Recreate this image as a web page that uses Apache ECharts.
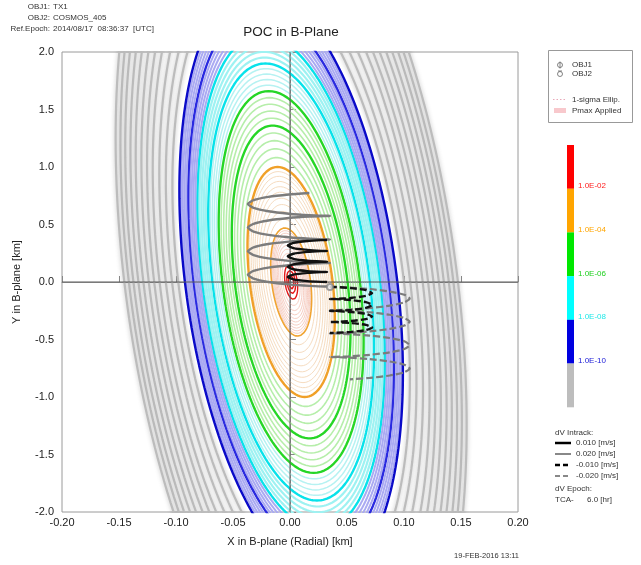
<!DOCTYPE html>
<html><head><meta charset="utf-8">
<script src="https://cdn.jsdelivr.net/npm/echarts@6/dist/echarts.min.js"></script>
<style>html,body{margin:0;padding:0;background:#fff}#c{width:641px;height:565px}</style>
</head><body><div id="c"></div>
<script>
// ---------------- data ----------------
const xTickValues = [-0.20, -0.15, -0.10, -0.05, 0.00, 0.05, 0.10, 0.15, 0.20];
const yTickValues = [-2.0, -1.5, -1.0, -0.5, 0.0, 0.5, 1.0, 1.5, 2.0];

// Pc contour ellipse shape (km), scale 1 = the 1.0E-04 contour
const ellipseCenter = [0.001, 0.0];
const ellipseHalfWidth = 0.0364;   // X half-width along Y = centre
const ellipseHalfHeight = 1.0;     // Y half-height
const ellipseShear = -0.0119;      // X offset of the top point

// contour levels (log10 Pc) and their ellipse scale factors
const contourLevels = [
  -1.8, -1.9, -2,
  -2.1, -2.2, -2.3, -2.4, -2.5, -2.6, -2.7, -2.8, -2.9, -3,
  -3.1, -3.2, -3.3, -3.4, -3.5, -3.6, -3.7, -3.8, -3.9, -4,
  -4.2, -4.4, -4.6, -4.8, -5,
  -5.2, -5.4, -5.6, -5.8, -6,
  -6.2, -6.4, -6.6, -6.8, -7,
  -7.2, -7.4, -7.6, -7.8, -8,
  -8.2, -8.4, -8.6, -8.8, -9,
  -9.2, -9.4, -9.6, -9.8, -10,
  -11, -12, -13, -14, -15, -16, -17, -18, -19, -20, -21
];
const contourScales = [
  0.06, 0.10, 0.15,
  0.205, 0.249, 0.286, 0.318, 0.348, 0.375, 0.401, 0.425, 0.447, 0.47,
  0.546, 0.613, 0.674, 0.729, 0.781, 0.829, 0.875, 0.919, 0.960, 1.0,
  1.082, 1.158, 1.229, 1.296, 1.36,
  1.425, 1.487, 1.546, 1.603, 1.66,
  1.712, 1.761, 1.808, 1.855, 1.90,
  1.952, 2.002, 2.052, 2.100, 2.15,
  2.193, 2.236, 2.278, 2.319, 2.36,
  2.402, 2.441, 2.482, 2.520, 2.56,
  2.72, 2.87, 3.02, 3.17, 3.30, 3.43, 3.56, 3.68, 3.80, 3.91, 4.02
];

// dV trajectories [x km, y km]
const trajIntrackP020 = [
  [0.017,0.774],[-0.001,0.761],[-0.019,0.740],[-0.032,0.711],[-0.037,0.678],[-0.032,0.644],[-0.019,0.615],[-0.001,0.594],[0.017,0.581],[0.030,0.576],[0.035,0.575],
  [0.030,0.574],[0.017,0.569],[-0.001,0.556],[-0.019,0.535],[-0.032,0.506],[-0.037,0.473],[-0.032,0.439],[-0.019,0.410],[-0.001,0.389],[0.017,0.376],[0.030,0.371],[0.035,0.370],
  [0.030,0.369],[0.017,0.364],[-0.001,0.351],[-0.019,0.330],[-0.032,0.301],[-0.037,0.268],[-0.032,0.234],[-0.019,0.205],[-0.001,0.184],[0.017,0.171],[0.030,0.166],[0.035,0.165],
  [0.030,0.164],[0.017,0.159],[-0.001,0.146],[-0.019,0.125],[-0.032,0.096],[-0.037,0.063],[-0.032,0.029],[-0.019,0.000],[-0.001,-0.021],[0.017,-0.034],[0.030,-0.039],[0.035,-0.040]
];
const trajIntrackP010 = [
  [0.0325,0.365],[0.0275,0.364],[0.0153,0.356],[0.003,0.340],[-0.002,0.318],[0.003,0.295],[0.0153,0.279],[0.0275,0.271],[0.0325,0.270],
  [0.0275,0.269],[0.0153,0.262],[0.003,0.246],[-0.002,0.224],[0.003,0.201],[0.0153,0.185],[0.0275,0.178],[0.0325,0.177],
  [0.0275,0.176],[0.0153,0.169],[0.003,0.153],[-0.002,0.132],[0.003,0.111],[0.0153,0.095],[0.0275,0.088],[0.0325,0.087],
  [0.0275,0.086],[0.0153,0.079],[0.003,0.064],[-0.002,0.044],[0.003,0.023],[0.0153,0.008],[0.0275,0.001],[0.0325,0.000]
];
const trajIntrackM010 = [
  [0.035,-0.043],[0.0404,-0.044],[0.0535,-0.053],[0.0666,-0.071],[0.072,-0.096],[0.0666,-0.120],[0.0535,-0.139],[0.0404,-0.147],[0.035,-0.148],
  [0.0404,-0.149],[0.0535,-0.157],[0.0666,-0.175],[0.072,-0.200],[0.0666,-0.225],[0.0535,-0.243],[0.0404,-0.251],[0.035,-0.252],
  [0.0404,-0.253],[0.0535,-0.261],[0.0666,-0.277],[0.072,-0.300],[0.0666,-0.323],[0.0535,-0.339],[0.0404,-0.347],[0.035,-0.348],
  [0.0404,-0.349],[0.0535,-0.357],[0.0666,-0.373],[0.072,-0.396],[0.0666,-0.418],[0.0535,-0.434],[0.0404,-0.442],[0.035,-0.443]
];
const trajIntrackM020 = [
  [0.035,-0.043],[0.0397,-0.044],[0.0525,-0.049],[0.07,-0.061],[0.0875,-0.083],[0.1003,-0.111],[0.105,-0.144],[0.1003,-0.177],[0.0875,-0.206],[0.07,-0.227],[0.0525,-0.239],[0.0397,-0.244],[0.035,-0.245],
  [0.0397,-0.246],[0.0525,-0.251],[0.07,-0.263],[0.0875,-0.285],[0.1003,-0.313],[0.105,-0.346],[0.1003,-0.379],[0.0875,-0.408],[0.07,-0.429],[0.0525,-0.441],[0.0397,-0.446],[0.035,-0.447],
  [0.0397,-0.448],[0.0525,-0.453],[0.07,-0.466],[0.0875,-0.487],[0.1003,-0.516],[0.105,-0.550],[0.1003,-0.583],[0.0875,-0.612],[0.07,-0.633],[0.0525,-0.646],[0.0397,-0.651],[0.035,-0.652],
  [0.0397,-0.653],[0.0525,-0.658],[0.07,-0.670],[0.0875,-0.691],[0.1003,-0.719],[0.105,-0.752],[0.1003,-0.785],[0.0875,-0.813],[0.07,-0.834],[0.0525,-0.846]
];
const obj2Position = [0.035, -0.043];

const colorBarLabels = ['1.0E-02', '1.0E-04', '1.0E-06', '1.0E-08', '1.0E-10'];
const dvLegendLabels = ['0.010 [m/s]', '0.020 [m/s]', '-0.010 [m/s]', '-0.020 [m/s]'];

// ---------------- rendering ----------------
const FONT = '"Liberation Sans", Arial, sans-serif';
const chart = echarts.init(document.getElementById('c'));

function ellipsePoints(k) {
  const pts = [];
  const n = 240;
  for (let i = 0; i <= n; i++) {
    const t = 2 * Math.PI * i / n;
    pts.push([
      ellipseCenter[0] + k * (ellipseHalfWidth * Math.cos(t) + ellipseShear * Math.sin(t)),
      ellipseCenter[1] + k * ellipseHalfHeight * Math.sin(t)
    ]);
  }
  return pts;
}

function contourStyle(level) {
  const major = Math.abs(level - Math.round(level)) < 1e-6;
  if (level >= -2) return { color: '#e31818', width: 1.4 };
  if (level >= -4) {
    if (major) return level === -4 ? { color: '#f0a028', width: 2.4 } : { color: '#f0a432', width: 1.6 };
    return { color: level > -3 ? '#f7cfc4' : '#f6dcc0', width: 1 };
  }
  if (level >= -6) return major ? { color: '#26d626', width: 2.4 } : { color: '#b6eeaa', width: 1.6 };
  if (level >= -8) return major ? { color: '#08e2ea', width: 2.4 } : { color: level < -7 ? '#9ef2f2' : '#b6f2f2', width: level < -7 ? 2.2 : 1.5 };
  if (level >= -10) return major ? { color: level === -10 ? '#0a0ac8' : '#2a2ae0', width: 2.4 } : { color: '#aaaaf2', width: 2 };
  return { color: '#bcbcbc', width: 2.2, shadowColor: 'rgba(110,110,110,0.45)', shadowBlur: 4 };
}

const series = [];
contourLevels.forEach((lv, i) => {
  series.push({
    type: 'line', data: ellipsePoints(contourScales[i]), showSymbol: false, silent: true,
    clip: true, lineStyle: contourStyle(lv), z: 2
  });
});
// zero axes lines
series.push({ type: 'line', data: [[-0.2, 0], [0.2, 0]], showSymbol: false, silent: true, lineStyle: { color: '#5a5a5a', width: 1 }, z: 3 });
series.push({ type: 'line', data: [[0, -2], [0, 2]], showSymbol: false, silent: true, lineStyle: { color: '#5a5a5a', width: 1 }, z: 3 });
// trajectories
series.push({ type: 'line', data: trajIntrackP020, showSymbol: false, smooth: 0.2, lineStyle: { color: '#7c7c7c', width: 2.4 }, z: 4 });
series.push({ type: 'line', data: trajIntrackP010, showSymbol: false, smooth: 0.2, lineStyle: { color: '#111111', width: 2.4 }, z: 5 });
series.push({ type: 'line', data: trajIntrackM010, showSymbol: false, smooth: 0.2, lineStyle: { color: '#111111', width: 2.4, type: [7, 3] }, z: 5 });
series.push({ type: 'line', data: trajIntrackM020, showSymbol: false, smooth: 0.2, lineStyle: { color: '#7c7c7c', width: 2.2, type: [7, 3] }, z: 4 });
series.push({ type: 'scatter', data: [obj2Position], symbol: 'emptyCircle', symbolSize: 6, itemStyle: { color: '#888', borderColor: '#888' }, z: 6 });

// graphics: header, title, legends
const g = [];
function txt(x, y, s, opt) {
  g.push({ type: 'text', x, y, silent: true, style: Object.assign({ text: s, fill: '#333', font: '8px ' + FONT, textAlign: 'left', textVerticalAlign: 'middle' }, opt || {}) });
}
txt(50, 7, 'OBJ1:', { textAlign: 'right' }); txt(53, 7, 'TX1');
txt(50, 18, 'OBJ2:', { textAlign: 'right' }); txt(53, 18, 'COSMOS_405');
txt(50, 29, 'Ref.Epoch:', { textAlign: 'right' }); txt(53, 29, '2014/08/17  08:36:37  [UTC]');
txt(291, 32, 'POC in B-Plane', { textAlign: 'center', font: '13.5px ' + FONT, fill: '#222' });
txt(519, 556, '19-FEB-2016 13:11', { textAlign: 'right', font: '7.5px ' + FONT });

// legend box 1
g.push({ type: 'rect', shape: { x: 548.5, y: 50.5, width: 84, height: 72 }, style: { fill: '#fff', stroke: '#999', lineWidth: 1 }, silent: true });
g.push({ type: 'circle', shape: { cx: 560, cy: 65, r: 2.5 }, style: { fill: 'none', stroke: '#666', lineWidth: 0.8 } });
g.push({ type: 'line', shape: { x1: 560, y1: 61.5, x2: 560, y2: 68.5 }, style: { stroke: '#666', lineWidth: 0.8 } });
g.push({ type: 'circle', shape: { cx: 560, cy: 74, r: 2.5 }, style: { fill: 'none', stroke: '#666', lineWidth: 0.8 } });
g.push({ type: 'line', shape: { x1: 558, y1: 71, x2: 562, y2: 71 }, style: { stroke: '#666', lineWidth: 0.8 } });
txt(572, 65, 'OBJ1'); txt(572, 74, 'OBJ2');
g.push({ type: 'line', shape: { x1: 553, y1: 99.5, x2: 566, y2: 99.5 }, style: { stroke: '#e8a8b8', lineWidth: 1, lineDash: [1.5, 2] } });
txt(572, 99.5, '1-sigma Ellip.');
g.push({ type: 'rect', shape: { x: 554, y: 108, width: 12, height: 5 }, style: { fill: '#f8c8cc' } });
txt(572, 110.5, 'Pmax Applied');

// colour bar
const cbColors = ['#ff0000', '#ffa500', '#00e800', '#00ffff', '#0000e0', '#bdbdbd'];
const cbTextColors = ['#ff2020', '#ffa500', '#20d020', '#20e8e8', '#2020d8'];
cbColors.forEach((c, i) => {
  g.push({ type: 'rect', shape: { x: 567, y: 145 + i * 43.7, width: 7, height: 43.8 }, style: { fill: c }, silent: true });
});
colorBarLabels.forEach((s, i) => {
  txt(578, 186 + i * 43.7, s, { fill: cbTextColors[i] });
});

// dV legend
txt(555, 433, 'dV Intrack:');
const dvStyles = [
  { stroke: '#000', lineWidth: 2.5 },
  { stroke: '#888', lineWidth: 2 },
  { stroke: '#000', lineWidth: 2.5, lineDash: [5, 3] },
  { stroke: '#888', lineWidth: 2, lineDash: [5, 3] }
];
dvLegendLabels.forEach((s, i) => {
  const y = 443 + i * 11;
  g.push({ type: 'line', shape: { x1: 555, y1: y, x2: 571, y2: y }, style: dvStyles[i], silent: true });
  txt(576, y, s);
});
txt(555, 489, 'dV Epoch:');
txt(555, 500, 'TCA-'); txt(587, 500, '6.0 [hr]');

const option = {
  animation: false,
  backgroundColor: '#fff',
  grid: { left: 62, right: 123, top: 52, bottom: 53, show: true, borderColor: '#9a9a9a', borderWidth: 1, outerBoundsMode: 'none', containLabel: false },
  xAxis: {
    type: 'value', min: xTickValues[0], max: xTickValues[xTickValues.length - 1], interval: 0.05,
    name: 'X in B-plane (Radial) [km]', nameLocation: 'middle', nameGap: 24,
    nameTextStyle: { fontFamily: FONT, fontSize: 11, color: '#222' },
    axisLine: { show: true, lineStyle: { color: '#9a9a9a' } },
    axisTick: { show: true, inside: true, length: 6, lineStyle: { color: '#888' } },
    axisLabel: { fontFamily: FONT, fontSize: 11, color: '#222', margin: 5, formatter: v => v.toFixed(2) },
    splitLine: { show: false }
  },
  yAxis: {
    type: 'value', min: yTickValues[0], max: yTickValues[yTickValues.length - 1], interval: 0.5,
    name: 'Y in B-plane [km]', nameLocation: 'middle', nameGap: 40,
    nameTextStyle: { fontFamily: FONT, fontSize: 11, color: '#222' },
    axisLine: { show: true, lineStyle: { color: '#9a9a9a' } },
    axisTick: { show: true, inside: true, length: 6, lineStyle: { color: '#888' } },
    axisLabel: { fontFamily: FONT, fontSize: 11, color: '#222', margin: 8, formatter: v => v.toFixed(1) },
    splitLine: { show: false }
  },
  series,
  graphic: g
};
chart.setOption(option);
</script></body></html>
